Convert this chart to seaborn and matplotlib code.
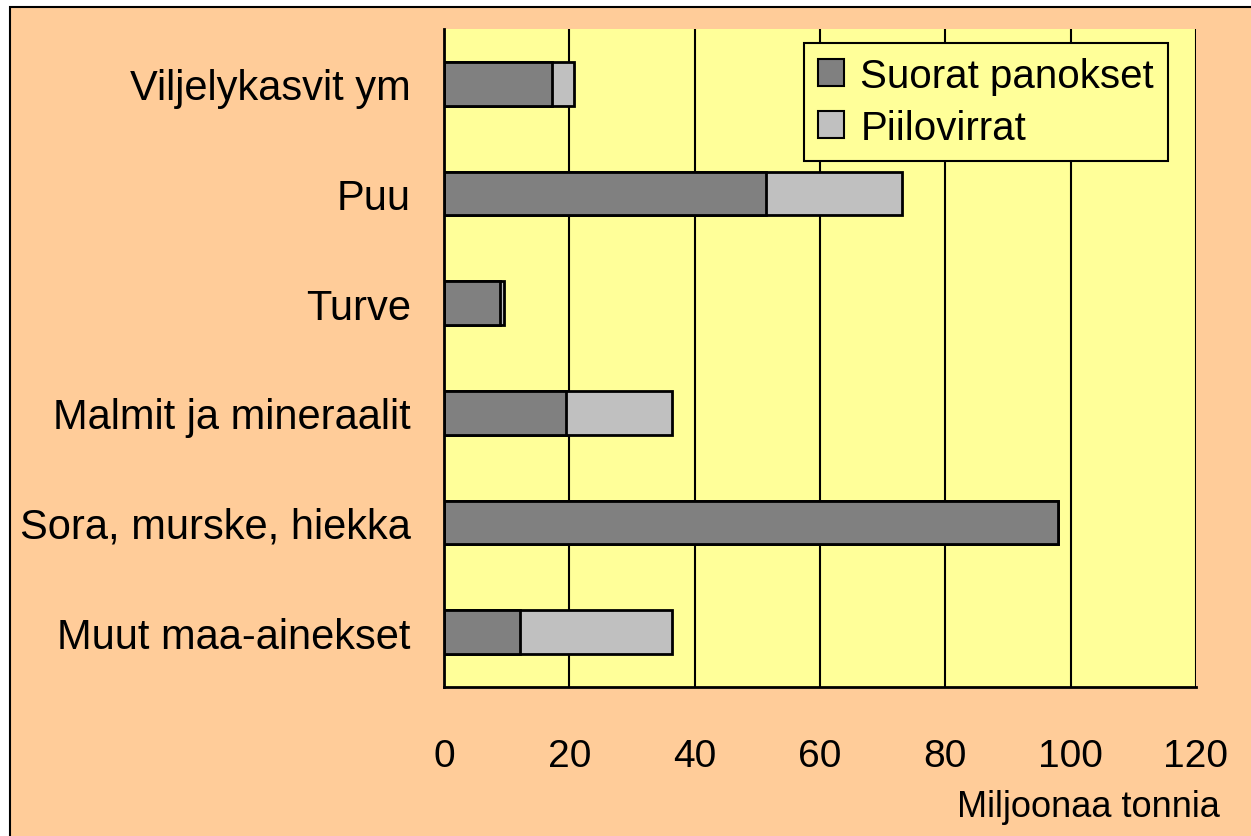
import numpy as np
import pandas as pd
import matplotlib
matplotlib.use("Agg")
import matplotlib.pyplot as plt
from matplotlib.patches import Rectangle, Patch
from matplotlib.ticker import FixedLocator
import seaborn as sns

sns.set_style("white")
plt.rcParams['font.family'] = ['Liberation Sans', 'DejaVu Sans']
plt.rcParams['text.color'] = 'black'
plt.rcParams['xtick.color'] = 'black'
plt.rcParams['ytick.color'] = 'black'

categories = ["Viljelykasvit ym", "Puu", "Turve", "Malmit ja mineraalit",
              "Sora, murske, hiekka", "Muut maa-ainekset"]
suorat = [17.3, 51.4, 8.9, 19.5, 98.0, 12.1]
piilo = [3.4, 21.7, 0.7, 16.9, 0.0, 24.3]
xticks = [0, 20, 40, 60, 80, 100, 120]

df = pd.DataFrame({"Kategoria": categories, "Suorat panokset": suorat,
                   "Piilovirrat": piilo})
df["Yhteensa"] = df["Suorat panokset"] + df["Piilovirrat"]

fig = plt.figure(figsize=(12.51, 8.37), dpi=100, facecolor="white")
fig.patches.append(Rectangle((10 / 1251, -0.05), 1.1, 0.05 + (837 - 8) / 837,
                             transform=fig.transFigure, facecolor="#FFCC99",
                             edgecolor="black", linewidth=1.5, zorder=-10))
ax = fig.add_axes([444 / 1251, (837 - 688) / 837, 752 / 1251, 658 / 837])
ax.set_zorder(5)
ax.set_facecolor("#FFFF99")

# totals first (light), then direct inputs (dark) on top -> stacked look
sns.barplot(data=df, y="Kategoria", x="Yhteensa", orient="h", color="#C0C0C0",
            saturation=1, width=0.4, edgecolor="black", linewidth=2, ax=ax)
sns.barplot(data=df, y="Kategoria", x="Suorat panokset", orient="h", color="#808080",
            saturation=1, width=0.4, edgecolor="black", linewidth=2, ax=ax)

ax.set_xlim(0, 120)
ax.set_ylim(len(categories) - 0.5, -0.5)
ax.set_xticks(xticks)
ax.set_xticklabels([str(v) for v in xticks], fontsize=28)
ax.tick_params(axis="x", direction="out", length=11, width=1.5, pad=26, color="black")
ax.yaxis.set_minor_locator(FixedLocator(np.arange(-0.5, len(categories), 1.0)))
ax.tick_params(axis="y", which="major", length=0, pad=24, labelsize=30)
ax.tick_params(axis="y", which="minor", direction="out", length=10, width=1.5, color="black")
ax.xaxis.grid(True, color="black", linewidth=1.5)
ax.set_axisbelow(True)
for s in ["top", "right"]:
    ax.spines[s].set_visible(False)
for s in ["left", "bottom"]:
    ax.spines[s].set_color("black")
    ax.spines[s].set_linewidth(2)
ax.set_xlabel("")
ax.set_ylabel("")

fig.text(1220 / 1251, (837 - 808) / 837, "Miljoonaa tonnia", fontsize=26,
         ha="right", va="center", zorder=10)

handles = [Patch(facecolor="#808080", edgecolor="black", linewidth=1.5),
           Patch(facecolor="#C0C0C0", edgecolor="black", linewidth=1.5)]
leg = ax.legend(handles, ["Suorat panokset", "Piilovirrat"], loc="upper right",
                bbox_to_anchor=(0.963, 0.979), borderaxespad=0, fontsize=29,
                fancybox=False, facecolor="#FFFF99", edgecolor="black", framealpha=1,
                handlelength=0.65, handleheight=0.65, handletextpad=0.4,
                labelspacing=0.35, borderpad=0.35)
leg.get_frame().set_linewidth(1.5)

fig.savefig("out.png", dpi=100)
